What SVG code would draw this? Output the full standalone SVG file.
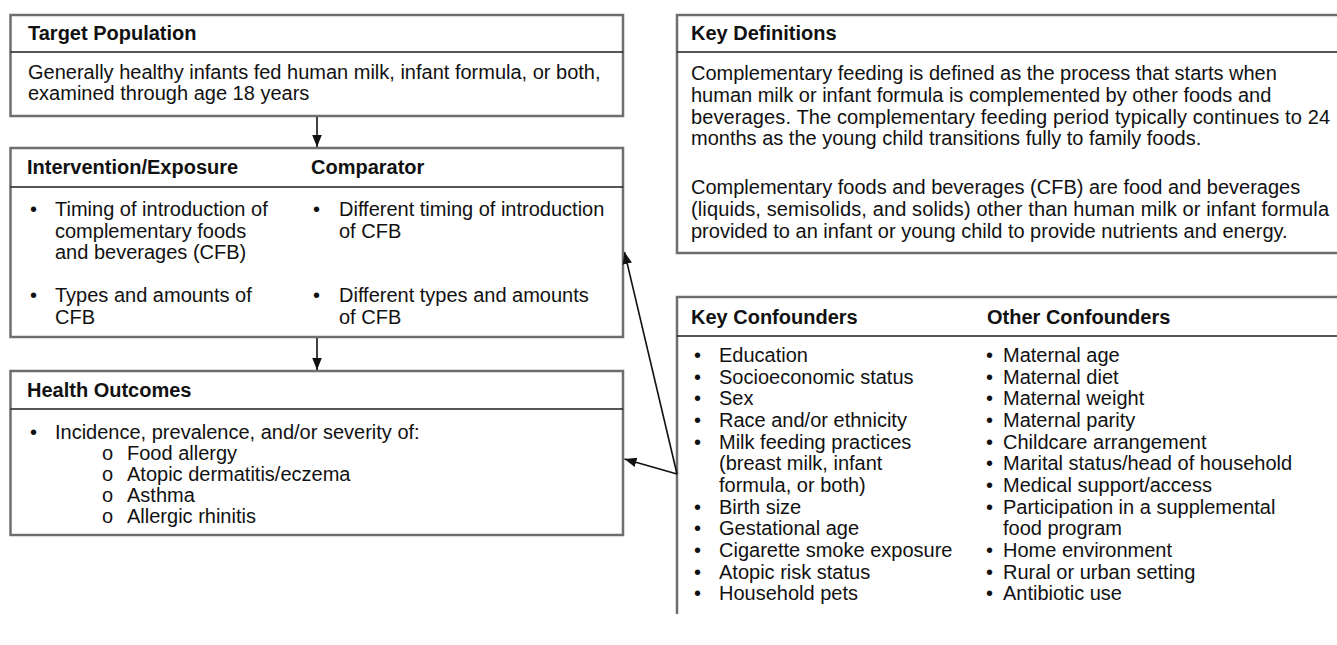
<svg xmlns="http://www.w3.org/2000/svg" width="1337" height="645" viewBox="0 0 1337 645">
<style>
.box{fill:#fff;stroke:#6e6e6e;stroke-width:2.5}
.dv{stroke:#1e1e1e;stroke-width:1.5;fill:none}
.h{font-family:"Liberation Sans",Arial,sans-serif;font-size:20px;font-weight:bold;fill:#111}
.t{font-family:"Liberation Sans",Arial,sans-serif;font-size:20px;fill:#111}
.c{stroke:#111;stroke-width:1.6;fill:none}
</style>
<defs>
<marker id="ah" viewBox="0 0 10 10" refX="10" refY="5" markerWidth="12" markerHeight="12" markerUnits="userSpaceOnUse" orient="auto">
<path d="M0,1 L10,5 L0,9 z" fill="#111"/>
</marker>
</defs>
<rect width="1337" height="645" fill="#fff"/>

<g id="target-population">
<rect class="box" x="10.5" y="15" width="612.5" height="101"/>
<line class="dv" x1="10.5" y1="52" x2="623" y2="52"/>
<text class="h" x="28" y="40">Target Population</text>
<text class="t" x="28" y="79">Generally healthy infants fed human milk, infant formula, or both,</text>
<text class="t" x="28" y="100">examined through age 18 years</text>
</g>

<g id="intervention-comparator">
<rect class="box" x="10.5" y="148" width="612.5" height="189"/>
<line class="dv" x1="10.5" y1="187" x2="623" y2="187"/>
<text class="h" x="27" y="174">Intervention/Exposure</text>
<text class="h" x="311" y="174">Comparator</text>
<text class="t" x="30" y="216">•</text>
<text class="t" x="55" y="216">Timing of introduction of</text>
<text class="t" x="55" y="238">complementary foods</text>
<text class="t" x="55" y="259">and beverages (CFB)</text>
<text class="t" x="30" y="302">•</text>
<text class="t" x="55" y="302">Types and amounts of</text>
<text class="t" x="55" y="324">CFB</text>
<text class="t" x="313" y="216">•</text>
<text class="t" x="339" y="216">Different timing of introduction</text>
<text class="t" x="339" y="238">of CFB</text>
<text class="t" x="313" y="302">•</text>
<text class="t" x="339" y="302">Different types and amounts</text>
<text class="t" x="339" y="324">of CFB</text>
</g>

<g id="health-outcomes">
<rect class="box" x="10.5" y="371" width="612.5" height="164"/>
<line class="dv" x1="10.5" y1="409" x2="623" y2="409"/>
<text class="h" x="27" y="397">Health Outcomes</text>
<text class="t" x="30" y="439">•</text>
<text class="t" x="55" y="439">Incidence, prevalence, and/or severity of:</text>
<text class="t" x="102" y="460">o</text>
<text class="t" x="127" y="460">Food allergy</text>
<text class="t" x="102" y="481">o</text>
<text class="t" x="127" y="481">Atopic dermatitis/eczema</text>
<text class="t" x="102" y="502">o</text>
<text class="t" x="127" y="502">Asthma</text>
<text class="t" x="102" y="523">o</text>
<text class="t" x="127" y="523">Allergic rhinitis</text>
</g>

<g id="key-definitions">
<rect class="box" x="677" y="15" width="680" height="238"/>
<line class="dv" x1="677" y1="52" x2="1345" y2="52"/>
<text class="h" x="691" y="40">Key Definitions</text>
<text class="t" x="691" y="80">Complementary feeding is defined as the process that starts when</text>
<text class="t" x="691" y="102">human milk or infant formula is complemented by other foods and</text>
<text class="t" x="691" y="124" textLength="639">beverages. The complementary feeding period typically continues to 24</text>
<text class="t" x="691" y="145">months as the young child transitions fully to family foods.</text>
<text class="t" x="691" y="194">Complementary foods and beverages (CFB) are food and beverages</text>
<text class="t" x="691" y="216" textLength="638">(liquids, semisolids, and solids) other than human milk or infant formula</text>
<text class="t" x="691" y="238">provided to an infant or young child to provide nutrients and energy.</text>
</g>

<g id="confounders">
<path class="box" d="M1345,297 H677 V614"/>
<line class="dv" x1="677" y1="336" x2="1345" y2="336"/>
<text class="h" x="691" y="324">Key Confounders</text>
<text class="h" x="987" y="324">Other Confounders</text>
<g class="t">
<text x="694" y="362">•</text><text x="719" y="362">Education</text>
<text x="694" y="384">•</text><text x="719" y="384">Socioeconomic status</text>
<text x="694" y="405">•</text><text x="719" y="405">Sex</text>
<text x="694" y="427">•</text><text x="719" y="427">Race and/or ethnicity</text>
<text x="694" y="449">•</text><text x="719" y="449">Milk feeding practices</text>
<text x="719" y="470">(breast milk, infant</text>
<text x="719" y="492">formula, or both)</text>
<text x="694" y="514">•</text><text x="719" y="514">Birth size</text>
<text x="694" y="535">•</text><text x="719" y="535">Gestational age</text>
<text x="694" y="557">•</text><text x="719" y="557">Cigarette smoke exposure</text>
<text x="694" y="579">•</text><text x="719" y="579">Atopic risk status</text>
<text x="694" y="600">•</text><text x="719" y="600">Household pets</text>
<text x="986" y="362">•</text><text x="1003" y="362">Maternal age</text>
<text x="986" y="384">•</text><text x="1003" y="384">Maternal diet</text>
<text x="986" y="405">•</text><text x="1003" y="405">Maternal weight</text>
<text x="986" y="427">•</text><text x="1003" y="427">Maternal parity</text>
<text x="986" y="449">•</text><text x="1003" y="449">Childcare arrangement</text>
<text x="986" y="470">•</text><text x="1003" y="470">Marital status/head of household</text>
<text x="986" y="492">•</text><text x="1003" y="492">Medical support/access</text>
<text x="986" y="514">•</text><text x="1003" y="514">Participation in a supplemental</text>
<text x="1003" y="535">food program</text>
<text x="986" y="557">•</text><text x="1003" y="557">Home environment</text>
<text x="986" y="579">•</text><text x="1003" y="579">Rural or urban setting</text>
<text x="986" y="600">•</text><text x="1003" y="600">Antibiotic use</text>
</g>
</g>

<g id="connectors">
<line class="c" x1="317" y1="117" x2="317" y2="147" marker-end="url(#ah)"/>
<line class="c" x1="317" y1="338" x2="317" y2="370" marker-end="url(#ah)"/>
<line class="c" x1="677" y1="474" x2="624.5" y2="252" marker-end="url(#ah)"/>
<line class="c" x1="677" y1="474" x2="624.5" y2="459" marker-end="url(#ah)"/>
</g>
</svg>
